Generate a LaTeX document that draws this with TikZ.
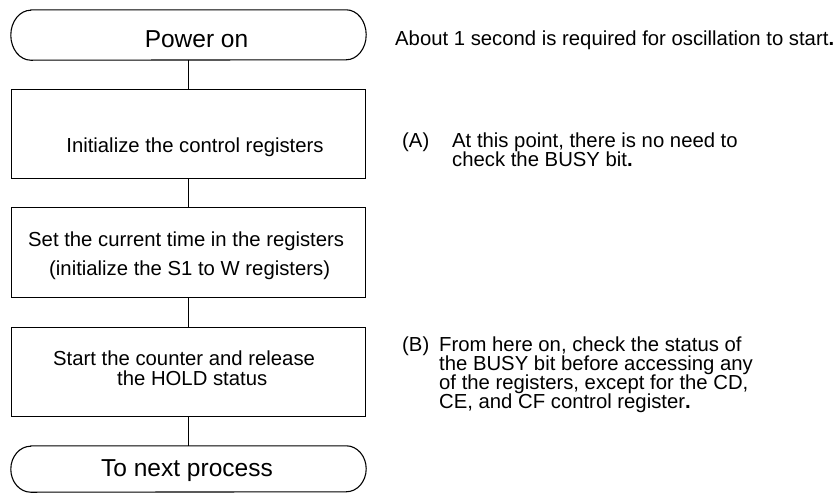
\documentclass[tikz,border=0pt]{standalone}
\usepackage{fontspec}
\setmainfont{Liberation Sans}
\usepackage{tikz}

\tikzset{
  box/.style={draw, line width=1.1pt, minimum width=353.5pt, minimum height=89.5pt, inner sep=0pt},
  termbox/.style={minimum width=355pt, inner sep=0pt},
  bigtext/.style={font=\fontsize{24.5pt}{29pt}\selectfont, inner sep=0pt},
  boxtext/.style={font=\fontsize{20.3pt}{20pt}\selectfont, inner sep=0pt, align=left},
  notetext/.style={font=\fontsize{20.3pt}{19.3pt}\selectfont, inner sep=0pt, align=left},
  flow/.style={line width=1.1pt}
}

\begin{document}
\begin{tikzpicture}[x=1pt, y=1pt]
        \useasboundingbox (0,0) rectangle (838,-493);

        % start terminal
        \node[termbox, minimum height=50pt] (pwr) at (188.5,-35) {};
        \draw[flow] ([xshift=20pt]pwr.north west) -- ([xshift=-20pt]pwr.north east)
            arc[start angle=90, end angle=-90, x radius=20pt, y radius=25pt]
            -- ([xshift=20pt]pwr.south west)
            arc[start angle=270, end angle=90, x radius=20pt, y radius=25pt] -- cycle;
        \node[bigtext, anchor=base] at (196.5,-47.5) {Power on};

        % process boxes (multi-line texts are placed by their last baseline)
        \node[box] (init) at (188.5,-133.8) {};
        \node[boxtext, anchor=base] at (195,-152.5) {Initialize the control registers};

        \node[box] (settime) at (188.5,-252.5) {};
        \node[boxtext, anchor=base west] at (28,-275)
            {Set the current time in the registers\\[8.5pt]\hspace*{21pt}(initialize the S1 to W registers)};

        \node[box] (startcnt) at (188.5,-372) {};
        \node[boxtext, anchor=base west] at (53,-385.5)
            {Start the counter and release\\\hspace*{64pt}the HOLD status};

        % end terminal
        \node[termbox, minimum height=46pt] (nxt) at (188.5,-469) {};
        \draw[flow] ([xshift=20pt]nxt.north west) -- ([xshift=-20pt]nxt.north east)
            arc[start angle=90, end angle=-90, x radius=20pt, y radius=23pt]
            -- ([xshift=20pt]nxt.south west)
            arc[start angle=270, end angle=90, x radius=20pt, y radius=23pt] -- cycle;
        \node[bigtext, anchor=base] at (187,-476.7) {To next process};

        % connectors
        \draw[flow] (pwr.south) -- (init.north);
        \draw[flow] (init.south) -- (settime.north);
        \draw[flow] (settime.south) -- (startcnt.north);
        \draw[flow] (startcnt.south) -- (nxt.north);

        % notes
        \node[notetext, anchor=base west] (osc) at (395,-45)
            {About 1 second is required for oscillation to start\textbf{.}};

        \node[notetext, anchor=base west] (noteA) at (402,-147.4) {(A)};
        \node[notetext, anchor=base west] at (452,-166.7)
            {At this point, there is no need to\\check the BUSY bit\textbf{.}};

        \node[notetext, anchor=base west] (noteB) at (402,-351) {(B)};
        \node[notetext, anchor=base west] at (439,-408.9)
            {From here on, check the status of\\the BUSY bit before accessing any\\of the registers, except for the CD,\\CE, and CF control register\textbf{.}};
\end{tikzpicture}
\end{document}
